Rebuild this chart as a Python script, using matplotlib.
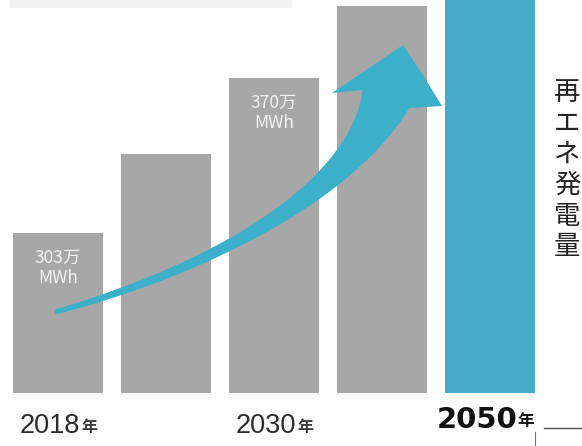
import numpy as np
import matplotlib
matplotlib.use("Agg")
import matplotlib.pyplot as plt
from matplotlib.patches import Polygon, Rectangle

# ---- data ----
years = ['2018', '', '2030', '', '2050']
values = [303, 337, 370, 401, 418]          # 万MWh (unlabelled bars estimated)
bar_labels = ['303万\nMWh', '', '370万\nMWh', '', '\nMWh']
side_title = '再エネ発電量'
year_suffix = '年'

GREY = '#a7a7a7'
BLUE = '#47aac6'
ARROW = '#3cafca'
CJK = ['Noto Sans CJK JP', 'DejaVu Sans']

W, H = 582, 446
fig = plt.figure(figsize=(W / 100, H / 100), dpi=100)
fig.patch.set_facecolor('white')

# main bar axes (pixel layout: bars bottom at y=393)
ax = fig.add_axes([4 / W, 53 / H, 540 / W, 393 / H])
ax.set_xlim(-0.5, 4.5)
ax.set_ylim(233.8, 403.7)
ax.axis('off')

x = np.arange(len(values))
colors = [GREY] * (len(values) - 1) + [BLUE]
ax.bar(x, values, width=0.83, color=colors, zorder=1)

px = 0.72  # points per pixel at 100 dpi
for i, (v, lab) in enumerate(zip(values, bar_labels)):
    if lab:
        ax.annotate(lab, xy=(i, v), xycoords='data',
                    xytext=(0, -16 * px), textcoords='offset points',
                    ha='center', va='top', fontsize=12.5, color='#f2f2f2',
                    family=CJK, linespacing=1.15, zorder=5)

for i, y in enumerate(years):
    if not y:
        continue
    bold = (i == len(years) - 1)
    if bold:
        t = ax.annotate(y, xy=(i, 233.8), xycoords='data',
                        xytext=(-13 * px, -35 * px), textcoords='offset points',
                        ha='center', va='baseline', fontsize=21,
                        fontweight='bold', family='DejaVu Sans', color='#111111',
                        annotation_clip=False)
        ax.annotate(year_suffix, xy=(1, 0), xycoords=t,
                    xytext=(0, 4 * px), textcoords='offset points',
                    ha='left', va='bottom', fontsize=12, fontweight='bold',
                    family=CJK, color='#111111', annotation_clip=False)
    else:
        t = ax.annotate(y, xy=(i, 233.8), xycoords='data',
                        xytext=(-8 * px, -40 * px), textcoords='offset points',
                        ha='center', va='baseline', fontsize=19.5,
                        family='Liberation Sans', color='#2b2b2b',
                        annotation_clip=False)
        ax.annotate(year_suffix, xy=(1, 0), xycoords=t,
                    xytext=(1, 4 * px), textcoords='offset points',
                    ha='left', va='bottom', fontsize=11.5, fontweight='bold',
                    family=CJK, color='#3a3a3a', annotation_clip=False)

# ---- decoration overlay in pixel coordinates ----
ov = fig.add_axes([0, 0, 1, 1], zorder=3)
ov.set_xlim(0, W)
ov.set_ylim(H, 0)
ov.axis('off')
ov.patch.set_alpha(0)

# faint strip at top (cropped element)
ov.add_patch(Rectangle((10, 0), 282, 8, color='#f2f2f2', lw=0))

# curved tapered arrow
P = np.array([[55, 312], [180, 278], [345, 205], [386, 99]], float)
t = np.linspace(0, 1, 80)[:, None]
c = ((1 - t) ** 3) * P[0] + 3 * ((1 - t) ** 2) * t * P[1] + 3 * (1 - t) * t ** 2 * P[2] + t ** 3 * P[3]
d = 3 * ((1 - t) ** 2) * (P[1] - P[0]) + 6 * (1 - t) * t * (P[2] - P[1]) + 3 * t ** 2 * (P[3] - P[2])
d = d / np.linalg.norm(d, axis=1, keepdims=True)
n = np.column_stack([-d[:, 1], d[:, 0]])
w = (5 + 12 * t[:, 0] + 33 * t[:, 0] ** 4)[:, None]
sideA = c + n * w / 2
sideB = c - n * w / 2
head = np.array([[332, 93], [403, 45], [426, 80], [442, 106]], float)
poly = np.vstack([sideB, head, sideA[::-1]])
ov.add_patch(Polygon(poly, closed=True, color=ARROW, lw=0, zorder=2))

# vertical side title
for k, ch in enumerate(side_title):
    ov.text(567, 92 + 31 * k, ch, ha='center', va='center', fontsize=19,
            family=CJK, color='#222222')

# lines near 2050
ov.plot([544, 582], [428, 428], color='#555555', lw=1)
ov.plot([535, 535], [432, 446], color='#777777', lw=0.8)

fig.savefig('out.png', dpi=100, facecolor='white')
